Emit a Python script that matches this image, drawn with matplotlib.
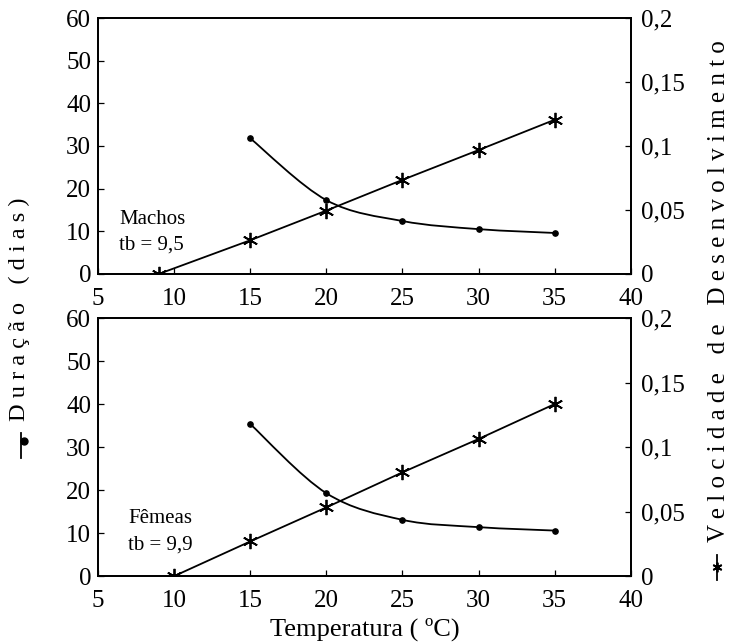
import matplotlib.pyplot as plt
from matplotlib.path import Path
from matplotlib.patches import PathPatch
from matplotlib.lines import Line2D
import numpy as np

#%%
# data
temp = [15, 20, 25, 30, 35]

# machos (top)
dur_machos = [31.8, 17.3, 12.4, 10.5, 9.6]
vel_temp_machos = [9, 15, 20, 25, 30, 35]
vel_machos = [0.0, 0.0263, 0.0495, 0.0735, 0.0968, 0.1205]

# femeas (bottom)
dur_femeas = [35.4, 19.3, 13.1, 11.4, 10.6]
vel_temp_femeas = [10, 15, 20, 25, 30, 35]
vel_femeas = [0.0, 0.0269, 0.0533, 0.0805, 0.1064, 0.1335]

x_ticks = [5, 10, 15, 20, 25, 30, 35, 40]
y_ticks = [0, 10, 20, 30, 40, 50, 60]
y2_ticks = [0, 0.05, 0.1, 0.15, 0.2]
y2_labels = ['0', '0,05', '0,1', '0,15', '0,2']

plt.rcParams['font.family'] = 'Liberation Serif'

#%%
def smooth_path(x, y, t=1/6):
    'Catmull-Rom style bezier through the points (like a smoothed Excel line)'
    x = np.asarray(x, float)
    y = np.asarray(y, float)
    verts = [(x[0], y[0])]
    codes = [Path.MOVETO]
    n = len(x)
    for i in range(n - 1):
        x0, y0 = (x[i-1], y[i-1]) if i > 0 else (x[i], y[i])
        x3, y3 = (x[i+2], y[i+2]) if i + 2 < n else (x[i+1], y[i+1])
        c1 = (x[i] + (x[i+1] - x0) * t, y[i] + (y[i+1] - y0) * t)
        c2 = (x[i+1] - (x3 - x[i]) * t, y[i+1] - (y3 - y[i]) * t)
        verts += [c1, c2, (x[i+1], y[i+1])]
        codes += [Path.CURVE4] * 3
    return Path(verts, codes)


def spaced(s):
    'letter-spaced title like the scanned figure'
    return '   '.join(' '.join(w) for w in s.split(' '))


def panel(ax, dur, vt, vel, label, lx, ly):
    ax.add_patch(PathPatch(smooth_path(temp, dur), fc='none', ec='black', lw=1.3))
    ax.plot(temp, dur, ls='none', marker='o', ms=3.8, color='black')
    ax.set_xlim(5, 40)
    ax.set_ylim(0, 60)
    ax.set_xticks(x_ticks)
    ax.set_yticks(y_ticks)
    ax.tick_params(labelsize=18, direction='in', length=4, width=0.9, pad=5)
    ax.tick_params(axis='x', pad=10)
    ax.text(lx, ly, label, fontsize=15, va='center', linespacing=1.5)

    ax2 = ax.twinx()
    ax2.plot(vt, vel, color='black', lw=1.3, marker=(6, 2, 0), ms=11, mew=1.3)
    ax2.set_ylim(0, 0.2)
    ax2.set_yticks(y2_ticks)
    ax2.set_yticklabels(y2_labels)
    ax2.tick_params(labelsize=18, direction='in', length=4, width=0.9, pad=7)
    for a in (ax, ax2):
        for s in a.spines.values():
            s.set_linewidth(1.3)
    return ax2


fig = plt.figure(figsize=(7.31, 6.43), dpi=100)
ax_top = fig.add_axes([0.134, 0.574, 0.729, 0.398])
ax_bot = fig.add_axes([0.134, 0.104, 0.729, 0.401])

panel(ax_top, dur_machos, vel_temp_machos, vel_machos, 'Machos\ntb = 9,5', 6.4, 9.8)
panel(ax_bot, dur_femeas, vel_temp_femeas, vel_femeas, 'Fêmeas\ntb = 9,9', 7.0, 10.3)

ax_bot.set_xlabel('Temperatura ( ºC)', fontsize=19, labelpad=4)

# spaced axis titles spanning both panels
fig.text(0.026, 0.519, spaced('Duração (dias)'), rotation=90,
         fontsize=17.5, ha='center', va='center')
fig.text(0.983, 0.547, spaced('Velocidade de Desenvolvimento'),
         rotation=90, fontsize=18, ha='center', va='center')

# legend symbols in front of the titles
fig.add_artist(Line2D([0.029, 0.029], [0.287, 0.327], color='black', lw=1.3,
                      transform=fig.transFigure))
fig.add_artist(Line2D([0.033], [0.314], color='black', marker='o', ms=5,
                      transform=fig.transFigure))
fig.add_artist(Line2D([0.981, 0.981], [0.098, 0.137], color='black', lw=1.3,
                      transform=fig.transFigure))
fig.add_artist(Line2D([0.981], [0.118], color='black', marker=(6, 2, 0), ms=7,
                      mew=1.3, transform=fig.transFigure))

fig.savefig('out.png', dpi=100)
